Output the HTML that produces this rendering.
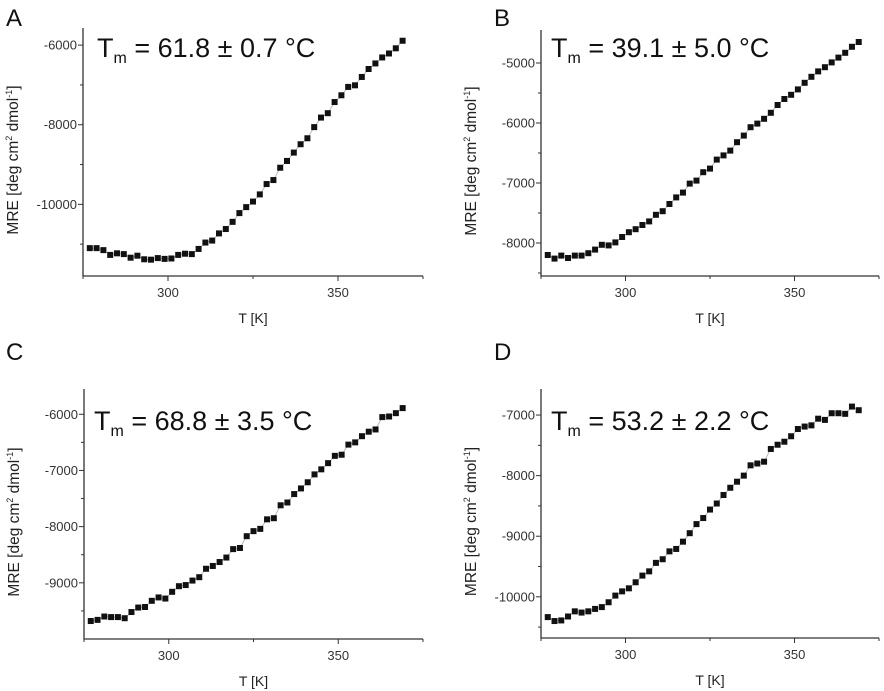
<!DOCTYPE html>
<html><head><meta charset="utf-8"><style>
html,body{margin:0;padding:0;background:#fff;}
svg{display:block;font-family:"Liberation Sans",Arial,sans-serif;}
</style></head><body>
<svg id="fig" width="884" height="691" viewBox="0 0 884 691"></svg>
<script>
const temps = Array.from({length:47},(_,i)=>277+2*i);
const seriesA = [-11100,-11100,-11150,-11270,-11230,-11250,-11340,-11290,-11380,-11390,-11350,-11370,-11360,-11270,-11240,-11250,-11120,-10960,-10910,-10730,-10620,-10440,-10220,-10070,-9930,-9750,-9490,-9390,-9080,-8910,-8700,-8490,-8340,-8060,-7820,-7710,-7430,-7260,-7050,-7010,-6800,-6600,-6460,-6310,-6210,-6080,-5890];
const seriesB = [-8200,-8260,-8210,-8250,-8210,-8210,-8170,-8110,-8030,-8040,-7990,-7900,-7820,-7770,-7700,-7640,-7530,-7470,-7350,-7240,-7160,-7010,-6960,-6820,-6760,-6610,-6540,-6460,-6320,-6210,-6070,-6010,-5930,-5830,-5700,-5600,-5530,-5440,-5330,-5230,-5140,-5070,-4990,-4910,-4830,-4730,-4650];
const seriesC = [-9680,-9660,-9600,-9610,-9610,-9630,-9520,-9440,-9430,-9320,-9260,-9280,-9160,-9060,-9040,-8960,-8900,-8750,-8700,-8630,-8550,-8400,-8380,-8170,-8080,-8040,-7870,-7850,-7620,-7570,-7420,-7320,-7210,-7070,-6980,-6870,-6740,-6720,-6540,-6500,-6390,-6310,-6270,-6050,-6040,-5980,-5890];
const seriesD = [-10335,-10400,-10390,-10325,-10240,-10260,-10240,-10200,-10170,-10090,-9980,-9910,-9860,-9760,-9650,-9580,-9440,-9380,-9250,-9210,-9090,-8950,-8800,-8700,-8560,-8460,-8320,-8200,-8100,-8000,-7830,-7800,-7770,-7560,-7490,-7440,-7350,-7230,-7190,-7170,-7060,-7080,-6970,-6970,-6980,-6860,-6920];
const xTickLabels = [300,350];
const xMinorTicks = [275,325,375];
const ticksA = [-6000,-8000,-10000];
const minorA = [-7000,-9000,-11000];
const ticksB = [-5000,-6000,-7000,-8000];
const minorB = [-5500,-6500,-7500,-8500];
const ticksC = [-6000,-7000,-8000,-9000];
const minorC = [-6500,-7500,-8500,-9500];
const ticksD = [-7000,-8000,-9000,-10000];
const minorD = [-7500,-8500,-9500,-10500];
const tmLabels = ["61.8 ± 0.7 °C","39.1 ± 5.0 °C","68.8 ± 3.5 °C","53.2 ± 2.2 °C"];

const NS="http://www.w3.org/2000/svg";
const svg=document.getElementById('fig');
function mk(tag,attrs,parent){const e=document.createElementNS(NS,tag);for(const k in attrs)e.setAttribute(k,attrs[k]);(parent||svg).appendChild(e);return e;}

const panels=[
 {id:'a',letter:'A',lx:6,ly:26,x0:83,x1:423,yt:28,yb:276,ymin:-11800,ymax:-5570,data:seriesA,ticks:ticksA,minor:minorA,tmx:97,tmy:57,tl:tmLabels[0]},
 {id:'b',letter:'B',lx:494,ly:26,x0:541,x1:879,yt:30,yb:276,ymin:-8550,ymax:-4450,data:seriesB,ticks:ticksB,minor:minorB,tmx:551,tmy:57,tl:tmLabels[1]},
 {id:'c',letter:'C',lx:6,ly:360,x0:84,x1:423,yt:389,yb:639,ymin:-10000,ymax:-5550,data:seriesC,ticks:ticksC,minor:minorC,tmx:94,tmy:430,tl:tmLabels[2]},
 {id:'d',letter:'D',lx:494,ly:360,x0:541,x1:879,yt:389,yb:638,ymin:-10680,ymax:-6570,data:seriesD,ticks:ticksD,minor:minorD,tmx:551,tmy:430,tl:tmLabels[3]}
];
panels.forEach(p=>{
 const g=mk('g',{});
 
 
 const xs=t=>p.x0+(t-275)/(100)*(p.x1-p.x0);
 const ys=v=>p.yb-(v-p.ymin)/(p.ymax-p.ymin)*(p.yb-p.yt);
 const L=mk('text',{x:p.lx,y:p.ly,'font-size':24,fill:'#111'},g);L.textContent=p.letter;
 
 const ax=mk('path',{d:`M${p.x0} ${p.yt}V${p.yb}H${p.x1}`,stroke:'#333','stroke-width':1.3,fill:'none'},g);
 
 xTickLabels.forEach(t=>{const x=xs(t);mk('line',{x1:x,x2:x,y1:p.yb,y2:p.yb+5,stroke:'#333'},g);
  const tx=mk('text',{x:x,y:p.yb+21,'font-size':13,'text-anchor':'middle',fill:'#333'},g);tx.textContent=t;
  });
 xMinorTicks.forEach(t=>{const x=xs(t);mk('line',{x1:x,x2:x,y1:p.yb,y2:p.yb+3,stroke:'#333'},g);});
 p.ticks.forEach(v=>{const y=ys(v);mk('line',{x1:p.x0-5,x2:p.x0,y1:y,y2:y,stroke:'#333'},g);
  const tx=mk('text',{x:p.x0-6,y:y+4.5,'font-size':13,'text-anchor':'end',fill:'#333'},g);tx.textContent=v;
  });
 p.minor.forEach(v=>{const y=ys(v);if(y>p.yt&&y<p.yb)mk('line',{x1:p.x0-3,x2:p.x0,y1:y,y2:y,stroke:'#333'},g);});
 const xt=mk('text',{x:(p.x0+p.x1)/2,y:p.yb+47,'font-size':14,'text-anchor':'middle',fill:'#222'},g);xt.textContent='T [K]';
 
 const cy=(p.yt+p.yb)/2+8, cx=p.x0-65;
 const yt=mk('text',{x:cx,y:cy,'font-size':15.5,'text-anchor':'middle',fill:'#222',transform:`rotate(-90 ${cx} ${cy})`},g);
 yt.innerHTML='MRE [deg cm<tspan dy="-6" font-size="9">2</tspan><tspan dy="6"> dmol</tspan><tspan dy="-6" font-size="9">-1</tspan><tspan dy="6">]</tspan>';
 
 const tm=mk('text',{x:p.tmx,y:p.tmy,'font-size':27,fill:'#111'},g);
 tm.innerHTML='T<tspan font-size="16" dy="6">m</tspan><tspan dy="-6"> = '+p.tl+'</tspan>';
 
 const pts=temps.map((t,i)=>xs(t).toFixed(1)+','+ys(p.data[i]).toFixed(1)).join(' ');
 const fl=mk('polyline',{points:pts,fill:'none',stroke:'#aaa','stroke-width':0.8},g);
 
 temps.forEach((t,i)=>{const r=mk('rect',{x:xs(t)-3,y:ys(p.data[i])-3,width:6,height:6,fill:'#111'},g);
  });
});
</script>
</body></html>
